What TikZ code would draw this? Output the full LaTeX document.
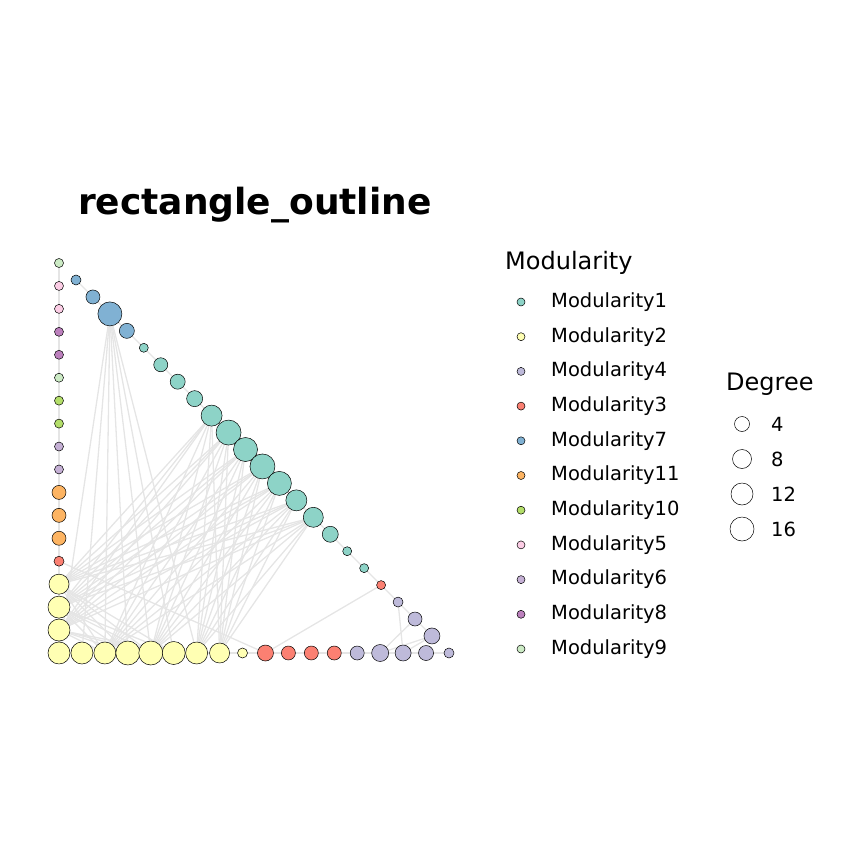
\documentclass[tikz,border=0pt]{standalone}
\usepackage{fontspec}
\setmainfont{DejaVu Sans}
\begin{document}
\begin{tikzpicture}[x=1pt,y=-1pt,
  vtx/.style={circle,draw=black,line width=0.5pt,inner sep=0pt,minimum size=#1},
  edge/.style={draw=black!10,line width=1.3pt},
  lab/.style={anchor=west,font=\fontsize{19.5}{22}\selectfont}]

% Colours of the modules
\definecolor{mA}{HTML}{8DD3C7}
\definecolor{mB}{HTML}{FFFFB3}
\definecolor{mC}{HTML}{FB8072}
\definecolor{mD}{HTML}{BEBADA}
\definecolor{mE}{HTML}{FCCDE5}
\definecolor{mF}{HTML}{C5B0D5}
\definecolor{mG}{HTML}{80B1D3}
\definecolor{mH}{HTML}{BC80BD}
\definecolor{mI}{HTML}{CCEBC5}
\definecolor{mJ}{HTML}{B3DE69}
\definecolor{mK}{HTML}{FDB462}

\useasboundingbox (0,0) rectangle (864,864);

% Title
\node[anchor=west,inner sep=0pt,font=\bfseries\fontsize{36}{40}\selectfont] (title) at (78,205) {rectangle\_outline};

% Positions of the vertices
\foreach \i in {1,...,18}
  \coordinate (L\i) at (59,{263+(\i-1)*22.94});
\foreach \i in {1,...,17}
  \coordinate (B\i) at ({59+\i*22.94},653);
\foreach \i in {1,...,22}
  \coordinate (D\i) at ({76+(\i-1)*16.95},{280+(\i-1)*16.95});

% Edges
\foreach \i [evaluate=\i as \j using int(\i+1)] in {1,...,17}
  \draw[edge] (L\i) -- (L\j);
\foreach \i [evaluate=\i as \j using int(\i+1)] in {1,...,16}
  \draw[edge] (B\i) -- (B\j);
\foreach \i [evaluate=\i as \j using int(\i+1)] in {1,...,21}
  \draw[edge] (D\i) -- (D\j);
\draw[edge] (L18) -- (B1);
\foreach \t in {L18,B1,B2,B3,B4,B5,B6}
  \draw[edge] (D3) -- (\t);
\foreach \s in {D9,D10,D11,D12,D13,D14,D15}
  \foreach \t in {L15,L16,L17,B2,B4,B6,B7}
    \draw[edge] (\s) -- (\t);
\foreach \s in {L15,L16,L17}
  \foreach \t in {B2,B3,B4,B5}
    \draw[edge] (\s) -- (\t);
\draw[edge] (L14) -- (B9);
\draw[edge] (D19) -- (B9);
\draw[edge] (D20) -- (B15);
\draw[edge] (D21) -- (B14);
\draw[edge] (D22) -- (B14);
\draw[edge] (D22) -- (B15);

% Vertices
\foreach \i/\c/\d in {1/mI/9,2/mE/9,3/mE/9,4/mH/9,5/mH/9,6/mI/9,7/mJ/9,8/mJ/9,
  9/mF/9,10/mF/9,11/mK/14,12/mK/14,13/mK/14,14/mC/10,15/mB/20,16/mB/22,17/mB/22,18/mB/22}
  \node[vtx=\d pt,fill=\c] (v-L\i) at (L\i) {};
\foreach \i/\c/\d in {1/mB/22,2/mB/22,3/mB/24,4/mB/24,5/mB/23,6/mB/22,7/mB/20,8/mB/10,
  9/mC/16,10/mC/14,11/mC/14,12/mC/14,13/mD/14,14/mD/17,15/mD/16,16/mD/15,17/mD/10}
  \node[vtx=\d pt,fill=\c] (v-B\i) at (B\i) {};
\foreach \i/\c/\d in {1/mG/10,2/mG/14,3/mG/24,4/mG/15,5/mA/9,6/mA/14,7/mA/15,8/mA/16,
  9/mA/21,10/mA/25,11/mA/24,12/mA/25,13/mA/24,14/mA/21,15/mA/20,16/mA/16,17/mA/9,
  18/mA/9,19/mC/9,20/mD/10,21/mD/14,22/mD/16}
  \node[vtx=\d pt,fill=\c] (v-D\i) at (D\i) {};

% Legend: modularity
\node[anchor=west,inner sep=0pt,font=\fontsize{24}{26}\selectfont] (modtitle) at (505,263) {Modularity};
\foreach \k/\c/\t in {0/mA/Modularity1,1/mB/Modularity2,2/mD/Modularity4,3/mC/Modularity3,
  4/mG/Modularity7,5/mK/Modularity11,6/mJ/Modularity10,7/mE/Modularity5,8/mF/Modularity6,
  9/mH/Modularity8,10/mI/Modularity9}
{
  \node[vtx=8pt,fill=\c] (key-\k) at (521,{302+\k*34.7}) {};
  \node[lab,inner sep=0pt] (keylab-\k) at (551,{302+\k*34.7}) {\t};
}

% Legend: degree
\node[anchor=west,inner sep=0pt,font=\fontsize{24}{26}\selectfont] (degtitle) at (726,384) {Degree};
\foreach \k/\d/\t in {0/15/4,1/19/8,2/22/12,3/24/16}
{
  \node[vtx=\d pt,fill=white] (deg-\k) at (742,{424+\k*35}) {};
  \node[lab,inner sep=0pt] (deglab-\k) at (771,{424+\k*35}) {\t};
}
\end{tikzpicture}
\end{document}
